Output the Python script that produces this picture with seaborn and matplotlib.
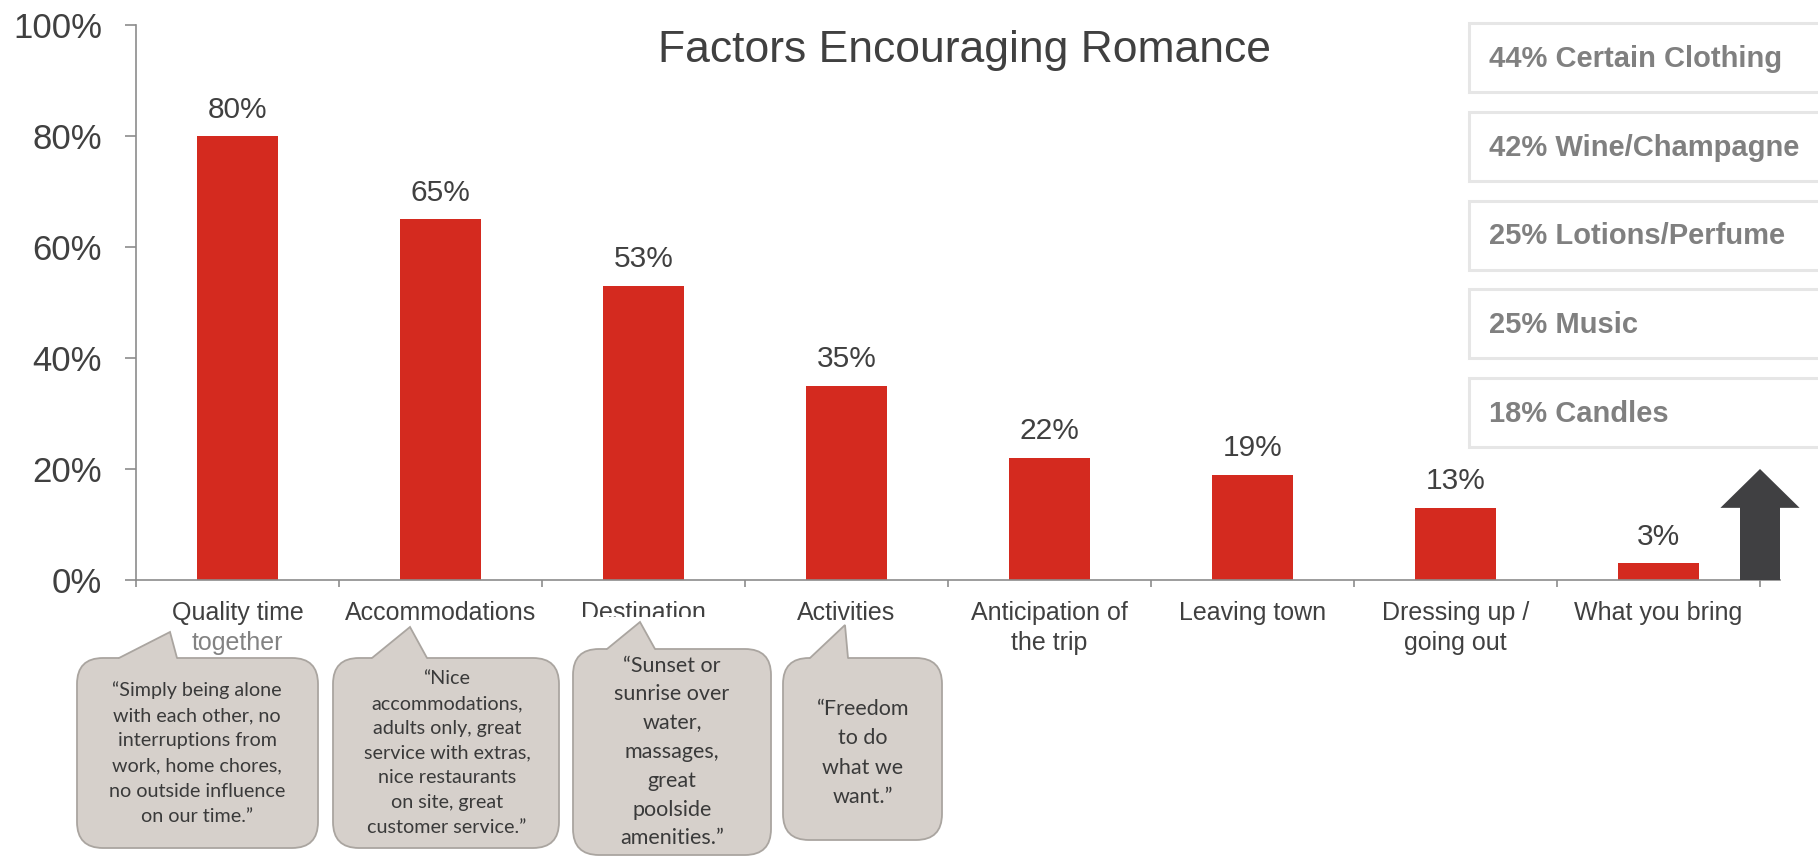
import matplotlib
matplotlib.use("Agg")
import matplotlib.pyplot as plt
import numpy as np
import seaborn as sns
from matplotlib.patches import FancyBboxPatch, Polygon, Rectangle

# ---- data -------------------------------------------------------------
categories = ["Quality time\ntogether", "Accommodations", "Destination", "Activities",
              "Anticipation of\nthe trip", "Leaving town", "Dressing up /\ngoing out",
              "What you bring"]
values = [80, 65, 53, 35, 22, 19, 13, 3]
yticks = [0, 20, 40, 60, 80, 100]

bring_pct = [44, 42, 25, 25, 18]
bring_items = ["Certain Clothing", "Wine/Champagne", "Lotions/Perfume", "Music", "Candles"]

quotes = [
    "\u201cSimply being alone\nwith each other, no\ninterruptions from\nwork, home chores,\nno outside influence\non our time.\u201d",
    "\u201cNice\naccommodations,\nadults only, great\nservice with extras,\nnice restaurants\non site, great\ncustomer service.\u201d",
    "\u201cSunset or\nsunrise over\nwater,\nmassages,\ngreat\npoolside\namenities.\u201d",
    "\u201cFreedom\nto do\nwhat we\nwant.\u201d",
]
title = "Factors Encouraging Romance"

# ---- style ------------------------------------------------------------
RED = "#D42A1F"
AXIS = "#8c8c8c"
TEXT = "#404040"
BUBBLE_FILL = "#d6d0cb"
BUBBLE_EDGE = "#aaa5a0"

sns.set_theme(style="white")
plt.rcParams["font.family"] = ["Liberation Sans", "DejaVu Sans"]

W, H = 1818, 858
fig = plt.figure(figsize=(W / 100, H / 100), dpi=100)

# main bar chart, x from -0.5 to 7.6 so the baseline runs under the arrow
ax = fig.add_axes([136 / W, 1 - 580 / H, 1644.3 / W, 555 / H])
sns.barplot(x=categories, y=values, color=RED, saturation=1, width=0.4,
            linewidth=0, ax=ax)
ax.set_xlim(-0.5, 7.6)
ax.set_ylim(0, 100)
ax.set_xlabel("")
ax.set_ylabel("")

for side in ("top", "right"):
    ax.spines[side].set_visible(False)
for side in ("left", "bottom"):
    ax.spines[side].set_color(AXIS)
    ax.spines[side].set_linewidth(1.2)

ax.set_yticks(yticks)
ax.set_yticklabels([f"{v}%" for v in yticks])
ax.tick_params(axis="y", length=8, width=1.2, color=AXIS, pad=16.5,
               labelsize=25, labelcolor=TEXT, left=True)

ax.set_xticks(range(len(categories)))
ax.set_xticklabels(categories)
ax.set_xticks(np.arange(-0.5, len(categories), 1), minor=True)
ax.tick_params(axis="x", which="major", length=0, pad=15, labelsize=18,
               labelcolor=TEXT)
ax.tick_params(axis="x", which="minor", length=5, width=1.2, color=AXIS,
               bottom=True)
for t in ax.get_xticklabels():
    t.set_linespacing(1.33)

ax.bar_label(ax.containers[0], labels=[f"{v}%" for v in values], padding=9,
             fontsize=21.5, color=TEXT)

# upward arrow pointing at the list of things people bring
ax_c, shaft, head, head_base, tip = 7.5, 0.0985, 0.195, 13, 20
ax.add_patch(Polygon([(ax_c - shaft, 0), (ax_c - shaft, head_base), (ax_c - head, head_base),
                      (ax_c, tip), (ax_c + head, head_base), (ax_c + shaft, head_base),
                      (ax_c + shaft, 0)],
                     closed=True, fc="#404042", ec="none", clip_on=False, zorder=3))

# overlay in pixel units (origin top-left) for the title, boxes and bubbles
ov = fig.add_axes([0, 0, 1, 1], zorder=5)
ov.set_xlim(0, W)
ov.set_ylim(H, 0)
ov.axis("off")
ov.patch.set_alpha(0)

ov.text(964, 62, title, ha="center", va="baseline", fontsize=32, color=TEXT)

for i, (p, item) in enumerate(zip(bring_pct, bring_items)):
    top = 23 + i * 88.75
    ov.add_patch(Rectangle((1469, top), 380, 69, fc="white", ec="#e6e6e6", lw=2.2))
    ov.text(1489, top + 36, f"{p}% {item}", ha="left", va="center", fontsize=21,
            fontweight="bold", color="#808080")

# soften/cut the labels sitting behind the bubble graphics
ov.add_patch(Rectangle((150, 630), 170, 28, fc="white", ec="none", alpha=0.35))
ov.add_patch(Rectangle((565, 617), 180, 33, fc="white", ec="none"))


def bubble(left, top, right, bottom, tail, text, size, cx, cy, spacing):
    bl, tx, ty, br = tail
    ov.add_patch(FancyBboxPatch((left, top), right - left, bottom - top,
                                boxstyle="round,pad=0,rounding_size=26",
                                fc=BUBBLE_FILL, ec=BUBBLE_EDGE, lw=1.3))
    ov.add_patch(Polygon([(bl, top), (tx, ty), (br, top), (br, top + 3), (bl, top + 3)],
                         closed=True, fc=BUBBLE_FILL, ec="none"))
    ov.plot([bl, tx, br], [top, ty, top], color=BUBBLE_EDGE, lw=1.3,
            solid_joinstyle="miter")
    ov.text(cx, cy, text, ha="center", va="center", fontsize=size, family="Lato",
            color="#3a3a3a", linespacing=spacing)


bubble(77, 658, 318, 848, (119, 170, 632, 177), quotes[0], 14.2, 197, 753, 1.58)
bubble(333, 658, 559, 848, (372, 410, 627, 427), quotes[1], 14.2, 447, 753, 1.55)
bubble(573, 649, 771, 855, (607, 640, 622, 655), quotes[2], 15.5, 672, 752, 1.55)
bubble(783, 658, 942, 840, (810, 845, 625, 848), quotes[3], 15.5, 863, 753, 1.57)

fig.savefig("out.png", dpi=100)
